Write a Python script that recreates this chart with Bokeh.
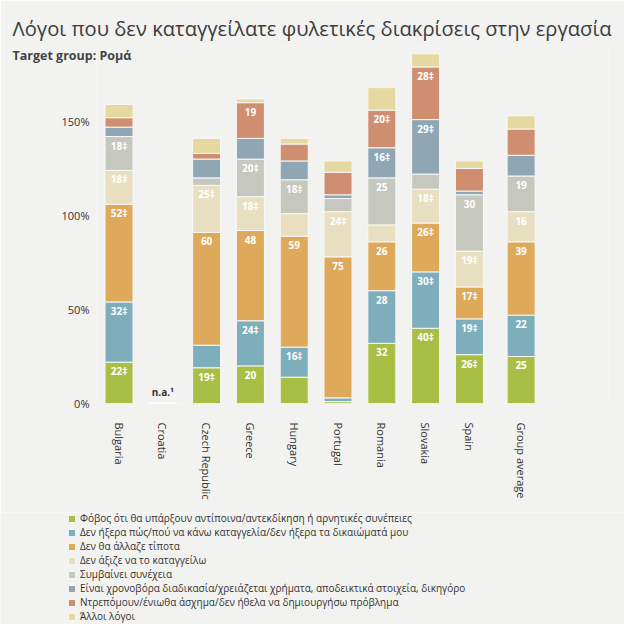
import math
from bokeh.plotting import figure
from bokeh.layouts import column
from bokeh.models import (ColumnDataSource, Range1d, FixedTicker, Label, Legend, LegendItem)
from bokeh.core.properties import value
from bokeh.embed import file_html
from bokeh.resources import INLINE

# ---------------- data ----------------
categories = ["Bulgaria", "Croatia", "Czech Republic", "Greece", "Hungary",
              "Portugal", "Romania", "Slovakia", "Spain", "Group average"]

series_names = [
    "Φόβος ότι θα υπάρξουν αντίποινα/αντεκδίκηση ή αρνητικές συνέπειες",
    "Δεν ήξερα πώς/πού να κάνω καταγγελία/δεν ήξερα τα δικαιώματά μου",
    "Δεν θα άλλαζε τίποτα",
    "Δεν άξιζε να το καταγγείλω",
    "Συμβαίνει συνέχεια",
    "Είναι χρονοβόρα διαδικασία/χρειάζεται χρήματα, αποδεικτικά στοιχεία, δικηγόρο",
    "Ντρεπόμουν/ένιωθα άσχημα/δεν ήθελα να δημιουργήσω πρόβλημα",
    "Άλλοι λόγοι",
]

fear           = [22, 0, 19, 20, 14, 1, 32, 40, 26, 25]
didnt_know     = [32, 0, 12, 24, 16, 2, 28, 30, 19, 22]
nothing_change = [52, 0, 60, 48, 59, 75, 26, 26, 17, 39]
not_worth      = [18, 0, 25, 18, 12, 24, 9, 18, 19, 16]
happens        = [18, 0, 4, 20, 18, 7, 25, 8, 30, 19]
time_consuming = [5, 0, 10, 11, 10, 2, 16, 29, 2, 11]
embarrassed    = [5, 0, 3, 19, 9, 12, 20, 28, 12, 14]
other          = [7, 0, 8, 2, 3, 6, 12, 7, 4, 7]

fear_lbl           = ["22‡", "", "19‡", "20", "", "", "32", "40‡", "26‡", "25"]
didnt_know_lbl     = ["32‡", "", "", "24‡", "16‡", "", "28", "30‡", "19‡", "22"]
nothing_change_lbl = ["52‡", "", "60", "48", "59", "75", "26", "26‡", "17‡", "39"]
not_worth_lbl      = ["18‡", "", "25‡", "18‡", "", "24‡", "", "18‡", "19‡", "16"]
happens_lbl        = ["18‡", "", "", "20‡", "18‡", "", "25", "", "30", "19"]
time_consuming_lbl = ["", "", "", "", "", "", "16‡", "29‡", "", ""]
embarrassed_lbl    = ["", "", "", "19", "", "", "20‡", "28‡", "", ""]
other_lbl          = ["", "", "", "", "", "", "", "", "", ""]

na_labels = ["", "n.a.¹", "", "", "", "", "", "", "", ""]

y_ticks = [0, 50, 100, 150]
y_tick_labels = ["0%", "50%", "100%", "150%"]

title_text = "Λόγοι που δεν καταγγείλατε φυλετικές διακρίσεις στην εργασία"
subtitle_text = "Target group: Ρομά"

# ---------------- style ----------------
colors = ["#a8be44", "#7eaebb", "#dfa95c", "#e8dfc0",
          "#c6c8bf", "#8fa7b4", "#d08e71", "#e5d8a1"]
BG = "#f2f2f0"
FONT = "Open Sans"
EDGE = "#f8f8f6"
avg_gap = 0.18

series = [fear, didnt_know, nothing_change, not_worth, happens,
          time_consuming, embarrassed, other]
labels = [fear_lbl, didnt_know_lbl, nothing_change_lbl, not_worth_lbl,
          happens_lbl, time_consuming_lbl, embarrassed_lbl, other_lbl]
keys = [f"s{i}" for i in range(len(series))]

xs = [i + (avg_gap if c == "Group average" else 0) for i, c in enumerate(categories)]

data = {"x": xs}
for k, s in zip(keys, series):
    data[k] = s
source = ColumnDataSource(data)

# ---------------- chart ----------------
p = figure(frame_width=512, frame_height=358, output_backend="svg", toolbar_location=None,
           x_range=Range1d(-0.514, 11.175), y_range=Range1d(0, 190.4),
           min_border_left=96, min_border_right=16, min_border_top=44,
           min_border_bottom=109)
p.frame_align = False
p.background_fill_color = BG
p.border_fill_color = BG
p.outline_line_color = None
p.xgrid.visible = False
p.ygrid.visible = False

renderers = p.vbar_stack(keys, x="x", width=0.64, source=source, color=colors,
                         line_color=EDGE, line_width=1)

# segment labels
lx, ly, lt = [], [], []
cum = [0] * len(categories)
for s, lab in zip(series, labels):
    for i in range(len(categories)):
        cum[i] += s[i]
        if lab[i]:
            lx.append(xs[i]); ly.append(cum[i]); lt.append(lab[i])
p.text(x=lx, y=ly, text=lt, text_align="center", text_baseline="middle",
       y_offset=9, text_color="white", text_font=value(FONT),
       text_font_style="bold", text_font_size="10px")

# n.a. marker and label
nx = [xs[i] for i, t in enumerate(na_labels) if t]
nt = [t for t in na_labels if t]
p.vbar(x=nx, bottom=[0] * len(nx), top=[0] * len(nx), width=0.64,
       line_color="white", line_width=2)
p.text(x=nx, y=[0] * len(nx), text=nt, text_align="center", text_baseline="bottom",
       y_offset=-5, text_color="#333333", text_font=value(FONT),
       text_font_style="bold", text_font_size="10px")

# axes
p.yaxis.ticker = FixedTicker(ticks=y_ticks)
p.yaxis.major_label_overrides = {t: l for t, l in zip(y_ticks, y_tick_labels)}
p.xaxis.ticker = FixedTicker(ticks=xs)
p.xaxis.major_label_overrides = {x: c for x, c in zip(xs, categories)}
p.xaxis.major_label_orientation = -math.pi / 2
for ax in (p.xaxis, p.yaxis):
    ax.axis_line_color = None
    ax.major_tick_line_color = None
    ax.minor_tick_line_color = None
    ax.major_tick_out = 0
    ax.major_tick_in = 0
    ax.minor_tick_out = 0
    ax.major_label_text_font = FONT
    ax.major_label_text_font_size = "11px"
    ax.major_label_text_color = "#333333"
p.xaxis.major_label_standoff = 19
p.yaxis.major_label_standoff = 7

# titles (in side panel so they are not clipped by the frame)
p.add_layout(Label(x=12, y=27, x_units="canvas", y_units="canvas", text=title_text,
                   text_font=FONT, text_font_size="20.2px", text_color="#3c3c3c",
                   text_baseline="middle"), "above")
p.add_layout(Label(x=12, y=55, x_units="canvas", y_units="canvas", text=subtitle_text,
                   text_font=FONT, text_font_size="12.5px", text_font_style="bold",
                   text_color="#444444", text_baseline="middle"), "above")

# ---------------- legend strip ----------------
lg = figure(width=624, height=112, output_backend="svg", toolbar_location=None,
            x_range=Range1d(0, 1), y_range=Range1d(0, 1), min_border=0)
lg.frame_align = False
lg.background_fill_color = BG
lg.border_fill_color = BG
lg.outline_line_color = None
lg.axis.visible = False
lg.grid.visible = False
swatches = [lg.vbar(x=[float("nan")], top=[1], width=1, color=c, line_color=EDGE, line_width=1)
            for c in colors]
legend = Legend(items=[LegendItem(label=n, renderers=[r]) for n, r in zip(series_names, swatches)],
                location=(67, 1), padding=0, margin=0, spacing=0,
                glyph_width=9, glyph_height=9, label_height=9, label_standoff=4,
                label_text_font=FONT, label_text_font_size="10px",
                label_text_color="#333333", background_fill_alpha=0,
                border_line_color=None)
lg.add_layout(legend)

layout = column(p, lg, spacing=0)
open("out.html", "w").write(file_html(layout, INLINE))
